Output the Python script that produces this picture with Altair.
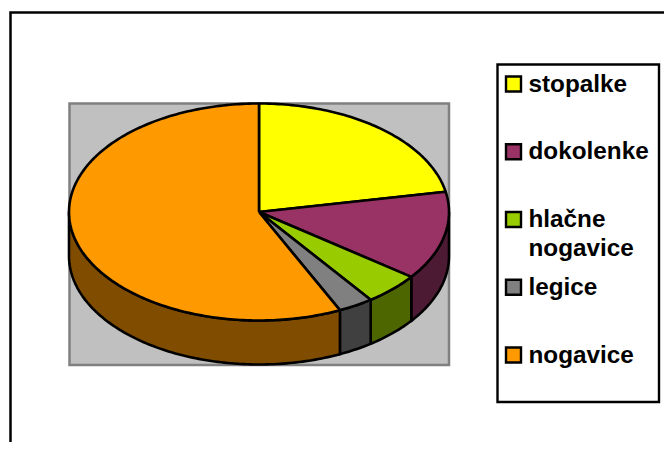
import numpy as np
import pandas as pd
import altair as alt

labels = ["stopalke", "dokolenke", "hlačne\nnogavice", "legice", "nogavice"]
values = [22.0, 13.2, 4.8, 3.0, 57.0]
top_colors = ["#FFFF00", "#993366", "#99CC00", "#808080", "#FF9900"]
side_colors = ["#808000", "#4D1A33", "#4D6600", "#404040", "#804D00"]

CX, CY, RX, RY, DEPTH = 259, 212, 190, 108.5, 44


def arc(a0, a1, dy=0.0):
    t = np.radians(np.linspace(a0, a1, max(2, int(abs(a1 - a0)) + 2)))
    return list(zip(CX + RX * np.sin(t), CY - RY * np.cos(t) + dy))


shares = np.array(values) / sum(values) * 360
ends = np.cumsum(shares)
starts = ends - shares

side_rows, top_rows = [], []
for k, (a0, a1) in enumerate(zip(starts, ends)):
    lo, hi = max(a0, 90), min(a1, 270)
    if hi > lo:
        pts = arc(lo, hi) + arc(hi, lo, DEPTH)
        pts.append(pts[0])
        side_rows += [dict(poly=k, i=i, x=x, y=y, c=side_colors[k]) for i, (x, y) in enumerate(pts)]
    pts = [(CX, CY)] + arc(a0, a1) + [(CX, CY)]
    top_rows += [dict(poly=k, i=i, x=x, y=y, c=top_colors[k]) for i, (x, y) in enumerate(pts)]

xs = alt.Scale(domain=[8, 664], nice=False, zero=False)
ys = alt.Scale(domain=[442, 8], nice=False, zero=False)
X = alt.X("x:Q", axis=None, scale=xs)
Y = alt.Y("y:Q", axis=None, scale=ys)


def boxlayer(x0, x1, y0, y1, fill, stroke, sw):
    d = pd.DataFrame([dict(x=x0, x2=x1, y=y0, y2=y1)])
    return alt.Chart(d).mark_rect(fill=fill, stroke=stroke, strokeWidth=sw).encode(
        x=X, x2="x2:Q", y=Y, y2="y2:Q")


plot_bg = boxlayer(69.5, 449, 103.5, 365, "#C0C0C0", "#808080", 2.5)
legend_box = boxlayer(497.5, 659, 64.5, 402, "#FFFFFF", "#000000", 2.4)

frame = alt.Chart(pd.DataFrame(dict(x=[10.5, 10.5, 664], y=[442, 12.5, 12.5], i=[0, 1, 2]))).mark_line(
    color="#000000", strokeWidth=2.5).encode(x=X, y=Y, order="i:Q")


def polys(rows):
    return alt.Chart(pd.DataFrame(rows)).mark_line(stroke="#000000", strokeWidth=2.6, strokeJoin="round").encode(
        x=X, y=Y, order="i:Q", detail="poly:N", fill=alt.Fill("c:N", scale=None))


rows_y = [84 + 67.75 * i for i in range(len(labels))]
leg = pd.DataFrame(dict(label=[s.split("\n") for s in labels], c=top_colors, y=rows_y, x=513.5, tx=528.5))

swatches = alt.Chart(leg).mark_point(shape="square", size=225, filled=True, opacity=1, stroke="#000000",
                                     strokeWidth=2.4).encode(x=X, y=Y, fill=alt.Fill("c:N", scale=None))
texts = alt.Chart(leg).mark_text(align="left", baseline="top", dy=-11.5, font="Liberation Sans", fontWeight="bold",
                                 fontSize=24.3, lineHeight=29, color="#000000").encode(
    x=alt.X("tx:Q", axis=None, scale=xs), y=Y, text="label")

chart = alt.layer(plot_bg, frame, polys(side_rows), polys(top_rows), legend_box, swatches, texts).properties(
    width=656, height=434, padding=0, background="#FFFFFF",
    autosize=alt.AutoSizeParams(type="none")
).configure_view(stroke=None)

chart.save("out.html", embed_options={"renderer": "svg", "actions": False})
